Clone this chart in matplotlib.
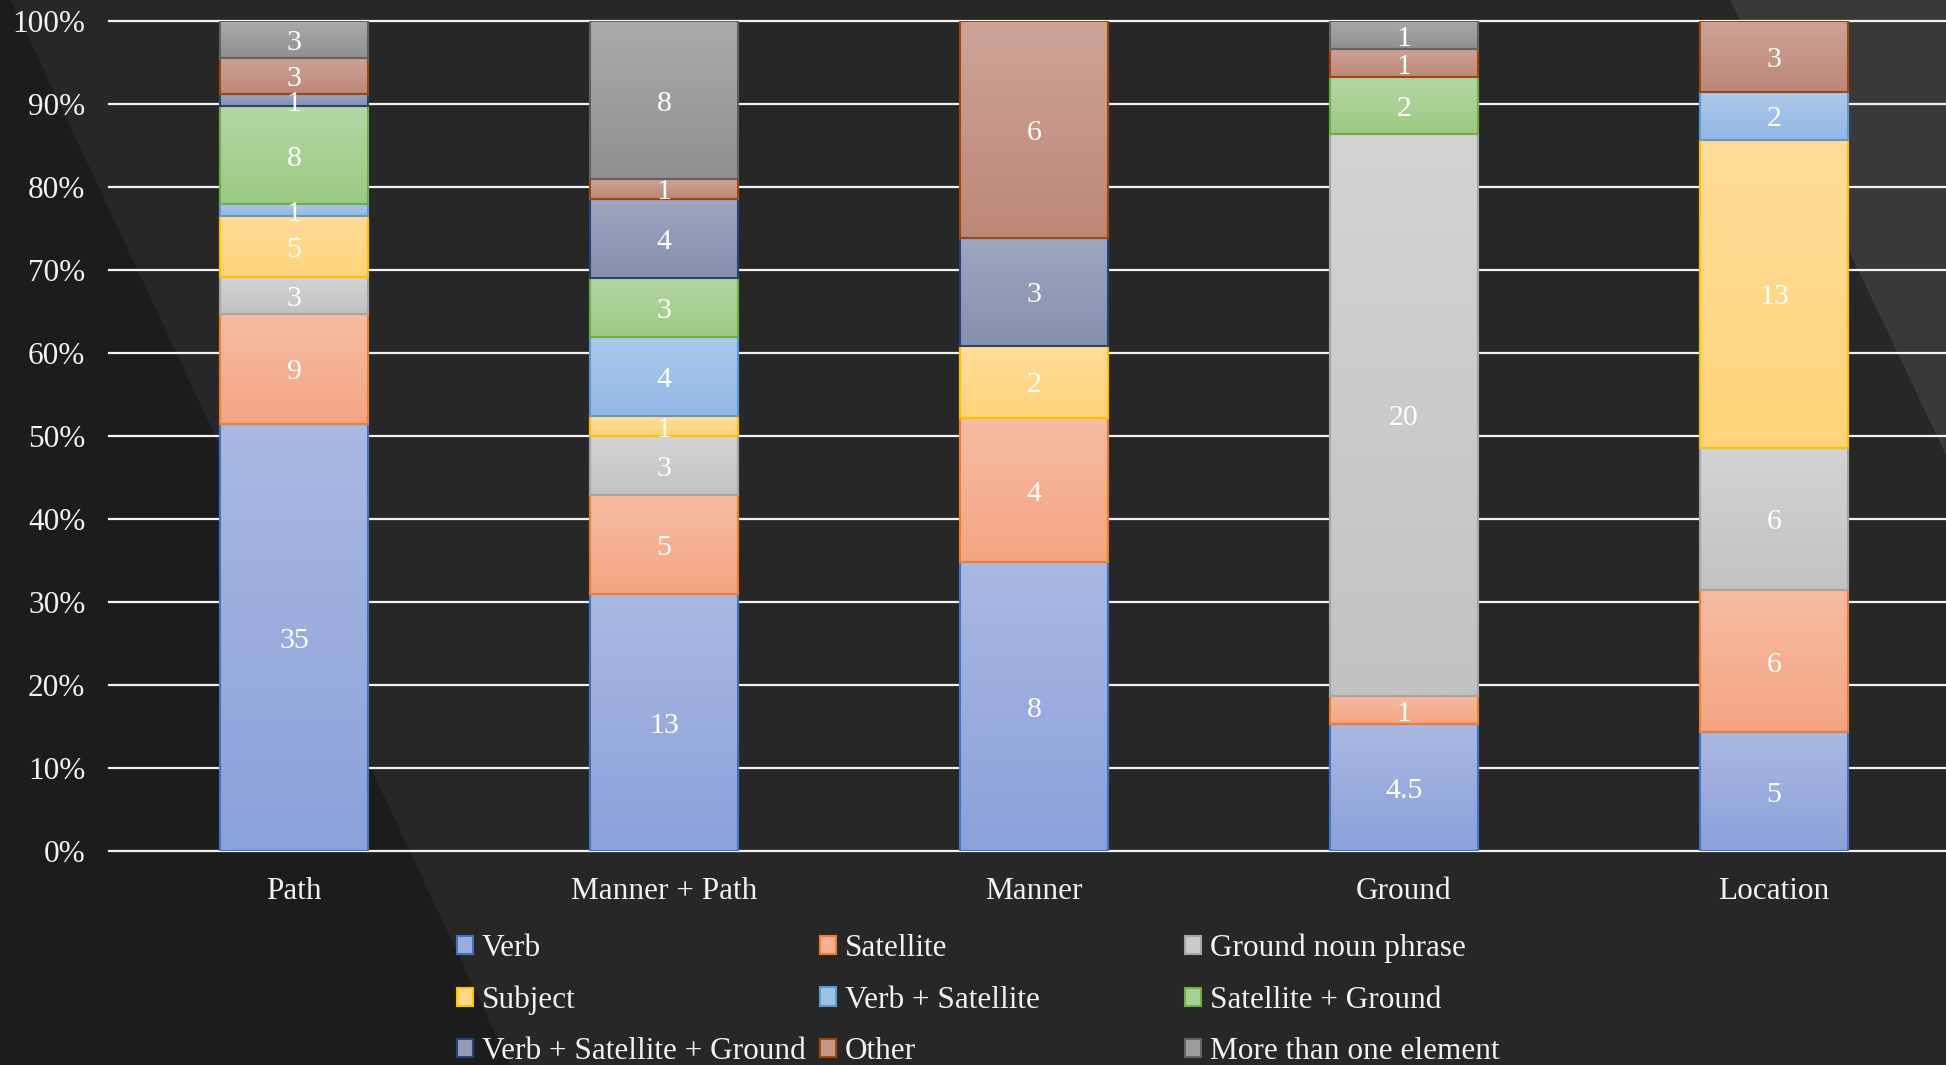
import numpy as np
import matplotlib
matplotlib.use("Agg")
import matplotlib.pyplot as plt
from matplotlib.patches import Polygon
from matplotlib.colors import to_rgb

plt.rcParams['font.family'] = ['Liberation Serif', 'DejaVu Serif']

categories = ["Path", "Manner + Path", "Manner", "Ground", "Location"]
series_names = ["Verb", "Satellite", "Ground noun phrase", "Subject", "Verb + Satellite",
                "Satellite + Ground", "Verb + Satellite + Ground", "Other", "More than one element"]
verb = [35, 13, 8, 4.5, 5]
satellite = [9, 5, 4, 1, 6]
ground_np = [3, 3, 0, 20, 6]
subject = [5, 1, 2, 0, 13]
verb_sat = [1, 4, 0, 0, 2]
sat_ground = [8, 3, 0, 2, 0]
verb_sat_ground = [1, 4, 3, 0, 0]
other = [3, 1, 6, 1, 3]
more_than_one = [3, 8, 0, 1, 0]

series = [verb, satellite, ground_np, subject, verb_sat, sat_ground, verb_sat_ground, other, more_than_one]
top_cols = ["#aab8e2", "#f6bca3", "#d3d3d3", "#ffdc9a", "#adc9eb", "#b5d6a5", "#9ea6c0", "#cda398", "#ababab"]
bot_cols = ["#8ba1da", "#f4a582", "#c2c2c2", "#ffd47a", "#92b7e3", "#9bca83", "#8690ae", "#bd8777", "#8f8f8f"]
edge_cols = ["#4472c4", "#ed7d31", "#a5a5a5", "#ffc000", "#5b9bd5", "#70ad47", "#264478", "#9e480e", "#636363"]

W, H = 1946, 1065
fig = plt.figure(figsize=(W / 100, H / 100), dpi=100, facecolor="#272727")
# decorative background shapes
fig.patches.append(Polygon([(0, 1), (11 / W, 1), (510 / W, 0), (0, 0)], closed=True,
                           transform=fig.transFigure, facecolor="#1c1c1c", edgecolor="none", zorder=-10))
fig.patches.append(Polygon([(1730 / W, 1), (1, 1), (1, 1 - 455 / H)], closed=True,
                           transform=fig.transFigure, facecolor="#393939", edgecolor="none", zorder=-10))

ax = fig.add_axes([109 / W, 1 - 851 / H, (1959 - 109) / W, (851 - 21) / H])
ax.set_facecolor("none")

counts = np.array(series, dtype=float)
totals = counts.sum(axis=0)
pcts = counts / totals
x = np.arange(len(categories))
bw = 0.4
bottom = np.zeros(len(categories))

containers = []
for i, name in enumerate(series_names):
    mid = tuple((np.array(to_rgb(top_cols[i])) + np.array(to_rgb(bot_cols[i]))) / 2)
    cont = ax.bar(x, pcts[i], bw, bottom=bottom, color=mid, edgecolor=edge_cols[i],
                  linewidth=1.5, label=name, zorder=2)
    containers.append(cont)
    grad = np.linspace(np.array(to_rgb(top_cols[i])), np.array(to_rgb(bot_cols[i])), 64).reshape(64, 1, 3)
    for rect, h in zip(cont.patches, pcts[i]):
        if h <= 0:
            rect.set_visible(False)
            continue
        x0, y0 = rect.get_x(), rect.get_y()
        ax.imshow(grad, extent=[x0, x0 + rect.get_width(), y0, y0 + h], aspect='auto',
                  interpolation='bilinear', zorder=2.2)
        ax.add_patch(plt.Rectangle((x0, y0), rect.get_width(), h, fill=False,
                                   edgecolor=edge_cols[i], linewidth=1.5, zorder=3))
    labels = [f"{v:g}" if v > 0 else "" for v in counts[i]]
    anns = ax.bar_label(cont, labels=labels, label_type='center', color="white", fontsize=21.5, zorder=4)
    for a in anns:
        a.xyann = (0, -2.5)
    bottom = bottom + pcts[i]

ax.set_xlim(-0.5, len(categories) - 0.5)
ax.set_ylim(0, 1)
ax.set_yticks(np.arange(0, 1.01, 0.1))
ax.set_yticklabels([f"{int(round(v * 100))}%" for v in np.arange(0, 1.01, 0.1)])
ax.set_xticks(x)
ax.set_xticklabels(categories)
ax.tick_params(axis='both', length=0, colors="#f2f2f2", labelsize=22.5)
ax.tick_params(axis='y', pad=17)
ax.tick_params(axis='x', pad=19)
for s in ax.spines.values():
    s.set_visible(False)
ax.set_axisbelow(True)
ax.yaxis.grid(True, color="#f2f2f2", linewidth=1.6, zorder=0)
for gl in ax.yaxis.get_gridlines():
    gl.set_clip_on(False)

handles = [c for c in containers]
col_x = [457 / W, 820 / W, 1185 / W]
for c in range(3):
    idx = [c, c + 3, c + 6]
    leg = fig.legend([handles[j] for j in idx], [series_names[j] for j in idx],
                     loc='center left', bbox_to_anchor=(col_x[c], 1 - 1000 / H),
                     frameon=False, fontsize=22.5, handlelength=0.52, handleheight=0.52,
                     handletextpad=0.28, labelspacing=0.72, borderpad=0, borderaxespad=0)
    for t in leg.get_texts():
        t.set_color("#f2f2f2")

fig.savefig("out.png", dpi=100, facecolor=fig.get_facecolor())
